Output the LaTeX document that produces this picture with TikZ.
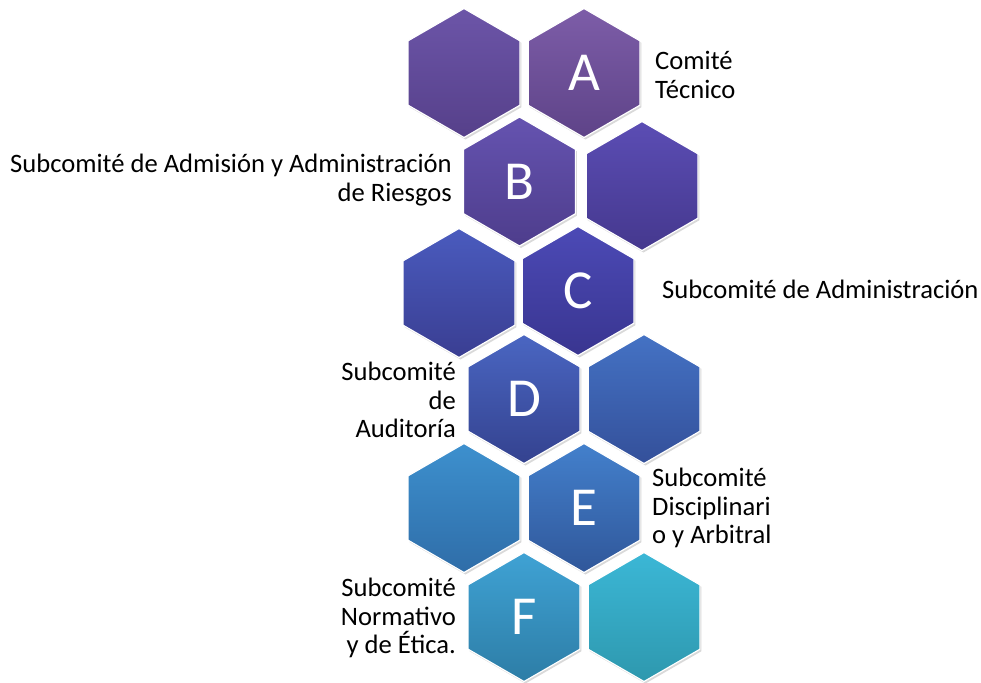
\documentclass[tikz,border=0pt]{standalone}
\usepackage{fontspec}
\setmainfont{Carlito}
\usetikzlibrary{shapes.geometric,shadows}
\definecolor{c1t}{HTML}{6C55A8}\definecolor{c1b}{HTML}{56408A}
\definecolor{cAt}{HTML}{7D5DA8}\definecolor{cAb}{HTML}{5E4388}
\definecolor{cBt}{HTML}{6553B0}\definecolor{cBb}{HTML}{4E3D8C}
\definecolor{c2t}{HTML}{5B4DB4}\definecolor{c2b}{HTML}{45388E}
\definecolor{c3t}{HTML}{4A5BBE}\definecolor{c3b}{HTML}{3A3E92}
\definecolor{cCt}{HTML}{4C4AB6}\definecolor{cCb}{HTML}{393590}
\definecolor{cDt}{HTML}{4A66C2}\definecolor{cDb}{HTML}{34428F}
\definecolor{c4t}{HTML}{4472C4}\definecolor{c4b}{HTML}{34509A}
\definecolor{c5t}{HTML}{3D90CE}\definecolor{c5b}{HTML}{2F6DA8}
\definecolor{cEt}{HTML}{4380CC}\definecolor{cEb}{HTML}{30579A}
\definecolor{cFt}{HTML}{3FA2D4}\definecolor{cFb}{HTML}{2D7DA6}
\definecolor{c6t}{HTML}{3BB7D6}\definecolor{c6b}{HTML}{2E98AE}
\begin{document}
\begin{tikzpicture}[x=1pt,y=-1pt,
  hexa/.style 2 args={regular polygon, regular polygon sides=6, shape border rotate=30,
    minimum size=129pt, inner sep=0pt, draw=white, line width=1.2pt,
    top color=#1, bottom color=#2,
    drop shadow={shadow xshift=1.5pt, shadow yshift=-2pt, opacity=0.25, fill=black!60},
    text=white, font=\fontsize{55}{60}\selectfont},
  lbl/.style={inner sep=0pt, font=\fontsize{26.6}{28.8}\selectfont, text=black}]
\useasboundingbox (0,0) rectangle (981,682);
% row 1
\node[hexa={c1t}{c1b}] (h1l) at (464,73) {};
\node[hexa={cAt}{cAb}] (hA) at (584,73) {A};
% row 2
\node[hexa={cBt}{cBb}] (hB) at (519.5,181.5) {B};
\node[hexa={c2t}{c2b}] (h2r) at (642,186) {};
% row 3
\node[hexa={c3t}{c3b}] (h3l) at (459,293) {};
\node[hexa={cCt}{cCb}] (hC) at (578,291) {C};
% row 4
\node[hexa={cDt}{cDb}] (hD) at (524,399) {D};
\node[hexa={c4t}{c4b}] (h4r) at (644,399) {};
% row 5
\node[hexa={c5t}{c5b}] (h5l) at (464,508) {};
\node[hexa={cEt}{cEb}] (hE) at (584,508) {E};
% row 6
\node[hexa={cFt}{cFb}] (hF) at (524,617) {F};
\node[hexa={c6t}{c6b}] (h6r) at (644,617) {};
% labels
\node[lbl, anchor=west, align=left] (tA) at (655,75) {Comité\\Técnico};
\node[lbl, anchor=east, align=right] (tB) at (452,180) {Subcomité de Admisión y Administración\\de Riesgos};
\node[lbl, anchor=west, align=left] (tC) at (662,289) {Subcomité de Administración};
\node[lbl, anchor=east, align=right] (tD) at (456,400) {Subcomité\\de\\Auditoría};
\node[lbl, anchor=west, align=left] (tE) at (652,508) {Subcomité\\Disciplinari\\o y Arbitral};
\node[lbl, anchor=east, align=right] (tF) at (456,618) {Subcomité\\Normativo\\y de Ética.};
\end{tikzpicture}
\end{document}
